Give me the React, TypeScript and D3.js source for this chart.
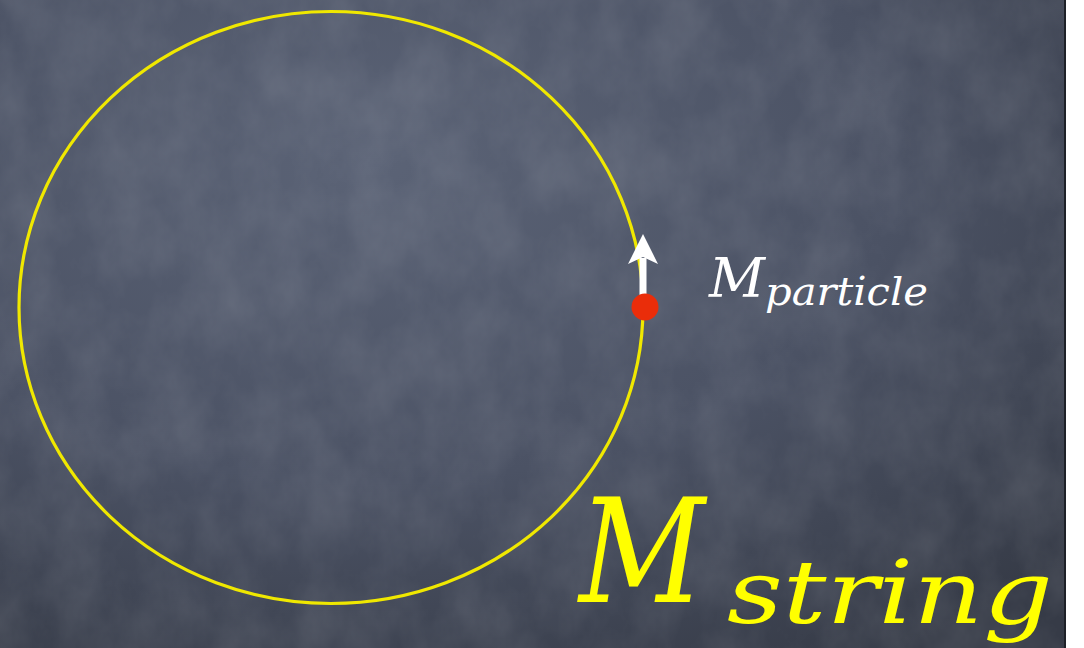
import * as d3 from "d3";
import { useEffect, useRef } from "react";

// slide in its own units (pixels of the original slide)
const slideSize = [1066, 648];

// the string loop (ellipse): center x, center y, radius x, radius y
const loop = [331, 307.5, 312, 296];

// particle on the loop and its velocity arrow
const particle = [645, 307];
const arrowTail = [643, 300];
const arrowHead = [643, 234];

// labels: main letter and its subscript
const labelMain = ["M", "M"];
const labelSub = ["particle", "string"];
const labelColor = ["#ffffff", "#ffff00"];
const mainX = [709, 579];
const mainY = [297, 602];
const mainSize = [54, 144];
const mainWidth = [56, 126];
const subX = [765, 727];
const subY = [305, 623];
const subSize = [38.5, 87];
const subWidth = [163, 326];

const App = () => {
    const svgRef = useRef<SVGSVGElement | null>(null);
    const dimensions = { width: 1084, height: 648 };

    useEffect(() => {
        const svg = d3.select(svgRef.current);
        svg.selectAll("*").remove();

        const x = d3.scaleLinear().domain([0, slideSize[0]]).range([0, slideSize[0]]);
        const y = d3.scaleLinear().domain([0, slideSize[1]]).range([0, slideSize[1]]);

        const defs = svg.append("defs");
        const grad = defs
            .append("radialGradient")
            .attr("id", "board")
            .attr("cx", "35%")
            .attr("cy", "25%")
            .attr("r", "90%");
        grad.append("stop").attr("offset", "0%").attr("stop-color", "#5b6376");
        grad.append("stop").attr("offset", "55%").attr("stop-color", "#4b5264");
        grad.append("stop").attr("offset", "100%").attr("stop-color", "#363b47");

        const chalk = defs.append("filter").attr("id", "chalk");
        chalk
            .append("feTurbulence")
            .attr("type", "fractalNoise")
            .attr("baseFrequency", "0.02 0.015")
            .attr("numOctaves", 5)
            .attr("seed", 7);
        chalk
            .append("feColorMatrix")
            .attr("values", "0 0 0 0 1  0 0 0 0 1  0 0 0 0 1  0 0 0 0.14 -0.04");

        // board
        svg.append("rect")
            .attr("x", x(0))
            .attr("y", y(0))
            .attr("width", x(slideSize[0]) - x(0))
            .attr("height", y(slideSize[1]) - y(0))
            .attr("fill", "url(#board)");
        svg.append("rect")
            .attr("x", x(0))
            .attr("y", y(0))
            .attr("width", x(slideSize[0]) - x(0))
            .attr("height", y(slideSize[1]) - y(0))
            .attr("filter", "url(#chalk)");
        svg.append("line")
            .attr("x1", x(slideSize[0]) - 1)
            .attr("x2", x(slideSize[0]) - 1)
            .attr("y1", y(0))
            .attr("y2", y(slideSize[1]))
            .attr("stroke", "#1e2128")
            .attr("stroke-width", 2);

        // loop
        svg.append("ellipse")
            .attr("cx", x(loop[0]))
            .attr("cy", y(loop[1]))
            .attr("rx", x(loop[2]) - x(0))
            .attr("ry", y(loop[3]) - y(0))
            .attr("fill", "none")
            .attr("stroke", "#f0e800")
            .attr("stroke-width", 3.2);

        // velocity arrow
        const headLen = 30;
        const headHalf = 15;
        svg.append("line")
            .attr("x1", x(arrowTail[0]))
            .attr("y1", y(arrowTail[1]))
            .attr("x2", x(arrowHead[0]))
            .attr("y2", y(arrowHead[1]) + headLen - 6)
            .attr("stroke", "#ffffff")
            .attr("stroke-width", 7);
        const hx = x(arrowHead[0]);
        const hy = y(arrowHead[1]);
        svg.append("path")
            .attr(
                "d",
                `M${hx},${hy} L${hx + headHalf},${hy + headLen} L${hx},${hy + headLen - 7} L${hx - headHalf},${hy + headLen} Z`
            )
            .attr("fill", "#ffffff");

        // particle
        svg.append("circle")
            .attr("cx", x(particle[0]))
            .attr("cy", y(particle[1]))
            .attr("r", 13.5)
            .attr("fill", "#ea2d0a");

        // labels
        const font = "'DejaVu Serif', 'Liberation Serif', serif";
        labelMain.forEach((m, i) => {
            svg.append("text")
                .attr("x", x(mainX[i]))
                .attr("y", y(mainY[i]))
                .attr("font-family", font)
                .attr("font-style", "italic")
                .attr("font-size", mainSize[i])
                .attr("fill", labelColor[i])
                .attr("textLength", mainWidth[i])
                .attr("lengthAdjust", "spacingAndGlyphs")
                .text(m);
            svg.append("text")
                .attr("x", x(subX[i]))
                .attr("y", y(subY[i]))
                .attr("font-family", font)
                .attr("font-style", "italic")
                .attr("font-size", subSize[i])
                .attr("fill", labelColor[i])
                .attr("textLength", subWidth[i])
                .attr("lengthAdjust", "spacingAndGlyphs")
                .text(labelSub[i]);
        });
    }, []);

    return (
        <svg
            ref={svgRef}
            width={dimensions.width}
            height={dimensions.height}
            style={{ position: "absolute", left: 0, top: 0, background: "#ffffff" }}
        />
    );
};

export default App;
